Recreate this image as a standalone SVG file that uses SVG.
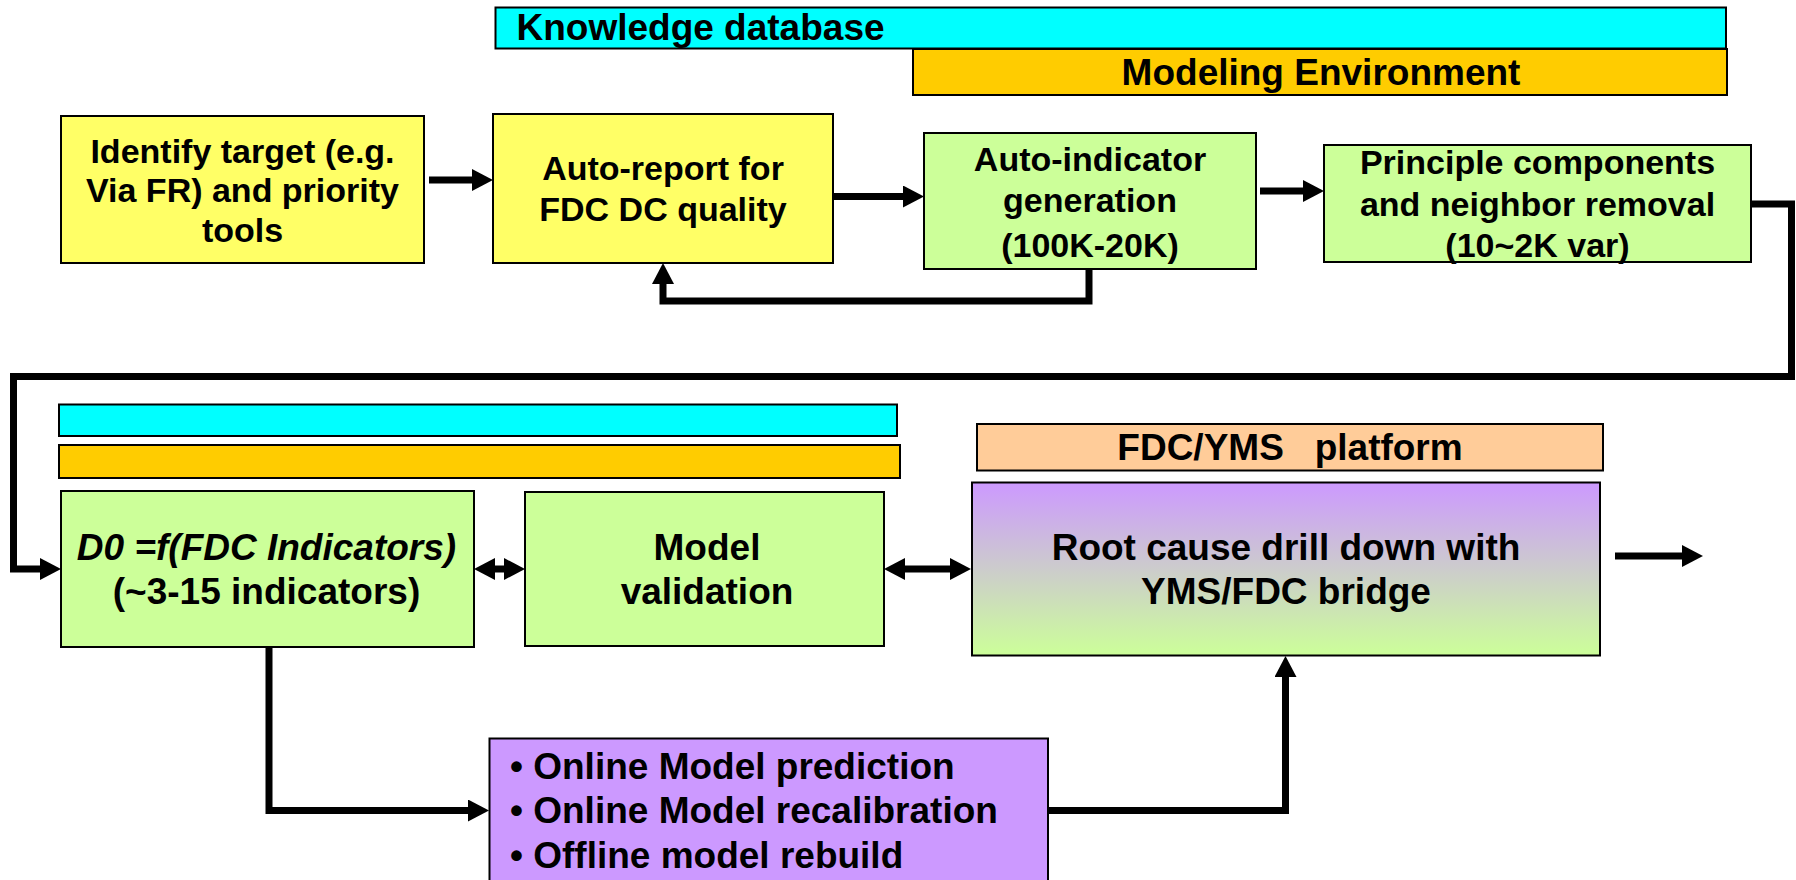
<svg xmlns="http://www.w3.org/2000/svg" width="1796" height="880" viewBox="0 0 1796 880">
<style>
.box{stroke:#000;stroke-width:2}
.yel{fill:#FFFF66}.grn{fill:#CCFF99}.cyan{fill:#00FFFF}.org{fill:#FFCC00}.peach{fill:#FFCC99}.pur{fill:#CC99FF}
text{font-family:"Liberation Sans",Arial,sans-serif;font-weight:bold;fill:#000}
.s34{font-size:34px}.s37{font-size:37px}
.c{text-anchor:middle}
.ln{fill:none;stroke:#000;stroke-width:7;stroke-linejoin:miter}
</style>
<defs>
<marker id="ah" viewBox="0 0 21 22" refX="0" refY="11" markerWidth="21" markerHeight="22" markerUnits="userSpaceOnUse" orient="auto-start-reverse">
<path d="M0,0 L21,11 L0,22 z" fill="#000"/>
</marker>
<linearGradient id="rg" x1="0" y1="0" x2="0" y2="1">
<stop offset="0" stop-color="#CC99FF"/>
<stop offset="1" stop-color="#CCFF99"/>
</linearGradient>
</defs>

<g id="connectors">
<path class="ln" d="M429,180 H472" marker-end="url(#ah)"/>
<path class="ln" d="M833,196.5 H903" marker-end="url(#ah)"/>
<path class="ln" d="M1260,191 H1303" marker-end="url(#ah)"/>
<path class="ln" d="M1089,269 V301 H663 V284" marker-end="url(#ah)"/>
<path class="ln" d="M1751,204 H1791.5 V376.5 H13.5 V569 H40" marker-end="url(#ah)"/>
<path class="ln" d="M495,569 H504" marker-start="url(#ah)" marker-end="url(#ah)"/>
<path class="ln" d="M905,569 H950" marker-start="url(#ah)" marker-end="url(#ah)"/>
<path class="ln" d="M1615,556 H1682" marker-end="url(#ah)"/>
<path class="ln" d="M269,647 V810.5 H468" marker-end="url(#ah)"/>
<path class="ln" d="M1048,810.5 H1285.5 V677" marker-end="url(#ah)"/>
</g>

<g id="knowledge-database">
<rect class="box cyan" x="495.5" y="7.5" width="1230.5" height="41"/>
<text class="s37" x="516.5" y="39.5">Knowledge database</text>
</g>
<g id="modeling-environment">
<rect class="box org" x="913" y="49" width="814" height="46"/>
<text class="s37 c" x="1321" y="85">Modeling Environment</text>
</g>

<g id="identify-target">
<rect class="box yel" x="61" y="116" width="363" height="147"/>
<text class="s34 c" x="242.5" y="162.5">Identify target (e.g.</text>
<text class="s34 c" x="242.5" y="202">Via FR) and priority</text>
<text class="s34 c" x="242.5" y="242">tools</text>
</g>

<g id="auto-report">
<rect class="box yel" x="493" y="114" width="340" height="149"/>
<text class="s34 c" x="663" y="180">Auto-report for</text>
<text class="s34 c" x="663" y="220.5">FDC DC quality</text>
</g>

<g id="auto-indicator">
<rect class="box grn" x="924" y="133" width="332" height="136"/>
<text class="s34 c" x="1090" y="170.5">Auto-indicator</text>
<text class="s34 c" x="1090" y="212">generation</text>
<text class="s34 c" x="1090" y="257">(100K-20K)</text>
</g>

<g id="principle-components">
<rect class="box grn" x="1324" y="145" width="427" height="117"/>
<text class="s34 c" x="1537.5" y="174">Principle components</text>
<text class="s34 c" x="1537.5" y="215.5">and neighbor removal</text>
<text class="s34 c" x="1537.5" y="256.5">(10~2K var)</text>
</g>

<g id="bar-cyan-2">
<rect class="box cyan" x="59" y="404.5" width="838" height="31.5"/>
</g>
<g id="bar-orange-2">
<rect class="box org" x="59" y="445" width="841" height="33"/>
</g>

<g id="d0-model">
<rect class="box grn" x="61" y="491" width="413" height="156"/>
<text class="s37 c" x="266.5" y="559.5" font-style="italic">D0 =f(FDC Indicators)</text>
<text class="s37 c" x="266.5" y="603.5">(~3-15 indicators)</text>
</g>

<g id="model-validation">
<rect class="box grn" x="525" y="492" width="359" height="154"/>
<text class="s37 c" x="707" y="559.5">Model</text>
<text class="s37 c" x="707" y="603.5">validation</text>
</g>

<g id="fdc-yms-platform">
<rect class="box peach" x="977" y="424" width="626" height="46.5"/>
<text class="s37 c" x="1290" y="459.5" xml:space="preserve">FDC/YMS   platform</text>
</g>

<g id="root-cause">
<rect class="box" fill="url(#rg)" x="972" y="482.5" width="628" height="173"/>
<text class="s37 c" x="1286" y="559.5">Root cause drill down with</text>
<text class="s37 c" x="1286" y="603.5">YMS/FDC bridge</text>
</g>

<g id="online-model">
<rect class="box pur" x="489.5" y="738.5" width="558.5" height="160"/>
<text class="s37" x="510" y="778.5">• Online Model prediction</text>
<text class="s37" x="510" y="823">• Online Model recalibration</text>
<text class="s37" x="510" y="867.5">• Offline model rebuild</text>
</g>
</svg>
